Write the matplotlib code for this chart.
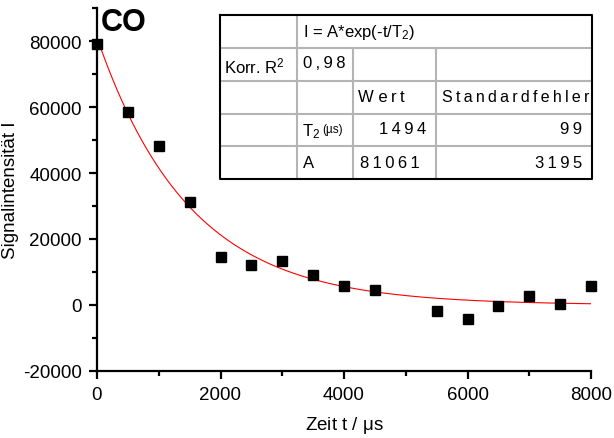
import numpy as np
import matplotlib
matplotlib.use("Agg")
import matplotlib.pyplot as plt
from matplotlib.ticker import MultipleLocator

plt.rcParams['font.family'] = ['Liberation Sans', 'DejaVu Sans']
plt.rcParams['mathtext.fontset'] = 'custom'
plt.rcParams['mathtext.rm'] = 'Liberation Sans'
plt.rcParams['mathtext.it'] = 'Liberation Sans:italic'
plt.rcParams['axes.unicode_minus'] = False

# messdaten
t_us = [0, 500, 1000, 1500, 2000, 2500, 3000, 3500, 4000, 4500,
        5500, 6000, 6500, 7000, 7500, 8000]
signal = [79150, 58570, 48100, 31170, 14500, 12200, 13200, 9130, 5700, 4570,
          -1830, -4350, -300, 2650, 430, 5900]

# fitparameter aus der tabelle
A_fit = 81061
T2_fit = 1494
A_err = 3195
T2_err = 99
r2_adj = "0,98"


def spaced(s):
    # gesperrte schrift wie im original
    return '\u2009'.join(s)


fig = plt.figure(figsize=(6.14, 4.39), dpi=100)
ax = fig.add_axes([97/614, 1-372/439, 494/614, 363/439])

t_fit = np.linspace(0, 8000, 400)
ax.plot(t_fit, A_fit*np.exp(-t_fit/T2_fit), color='red', lw=0.8)
ax.plot(t_us, signal, 's', color='black', ms=7.5, clip_on=False, zorder=3)

ax.set_xlim(0, 8000)
ax.set_ylim(-20000, 90000)
ax.xaxis.set_major_locator(MultipleLocator(2000))
ax.xaxis.set_minor_locator(MultipleLocator(1000))
ax.yaxis.set_major_locator(MultipleLocator(20000))
ax.yaxis.set_minor_locator(MultipleLocator(10000))
ax.spines['top'].set_visible(False)
ax.spines['right'].set_visible(False)
for s in ['left', 'bottom']:
    ax.spines[s].set_linewidth(1.6)
ax.tick_params(which='major', length=6, width=1.6, labelsize=13.5, pad=5)
ax.tick_params(which='minor', length=3.5, width=1.6)

ax.set_xlabel(r'Zeit t / $\mathrm{\mu}$s', fontsize=13.5, labelpad=8)
ax.set_ylabel('Signalintensität I', fontsize=13.5)
ax.yaxis.set_label_coords(-78/494, 0.5)

fig.text(101/614, 1-23/439, 'CO', fontsize=22, fontweight='bold', va='center', ha='left')

# tabelle
tab = fig.add_axes([220/614, 1-180/439, 372/614, 164/439])
tab.set_xlim(220, 592)
tab.set_ylim(180, 16)
tab.axis('off')
grey = '#b4b4b4'
cols = [297, 353, 436]
rows = [49, 82, 115, 147]
for y in rows:
    tab.plot([220, 592], [y, y], color=grey, lw=1.5)
tab.plot([297, 297], [16, 180], color=grey, lw=1.5)
for x in cols[1:]:
    tab.plot([x, x], [49, 180], color=grey, lw=1.5)
tab.plot([220, 592, 592, 220, 220], [16, 16, 180, 180, 16], color='black', lw=1.5,
         clip_on=False)

fs = 12
tab.text(303, 33, r'I = A*exp(-t/T$_2$)', fontsize=fs, va='center')
tab.text(224, 66, r'Korr. R$^2$', fontsize=fs, va='center')
tab.text(303, 63, spaced(r2_adj), fontsize=fs, va='center')
tab.text(358, 98, 'W' + ' ' + spaced('ert'), fontsize=fs, va='center')
tab.text(442, 98, spaced('Standardfehler'), fontsize=11.5, va='center')
tab.text(302, 132, r'T$_2$', fontsize=fs, va='center')
tab.text(322, 130, '(µs)', fontsize=8.5, va='center')
tab.text(303, 164, 'A', fontsize=fs, va='center')
tab.text(426, 129, spaced(str(T2_fit)), fontsize=fs, va='center', ha='right')
tab.text(420, 163, spaced(str(A_fit)), fontsize=fs, va='center', ha='right')
tab.text(582, 129, spaced(str(T2_err)), fontsize=fs, va='center', ha='right')
tab.text(582, 163, spaced(str(A_err)), fontsize=fs, va='center', ha='right')

fig.savefig('out.png', dpi=100)
